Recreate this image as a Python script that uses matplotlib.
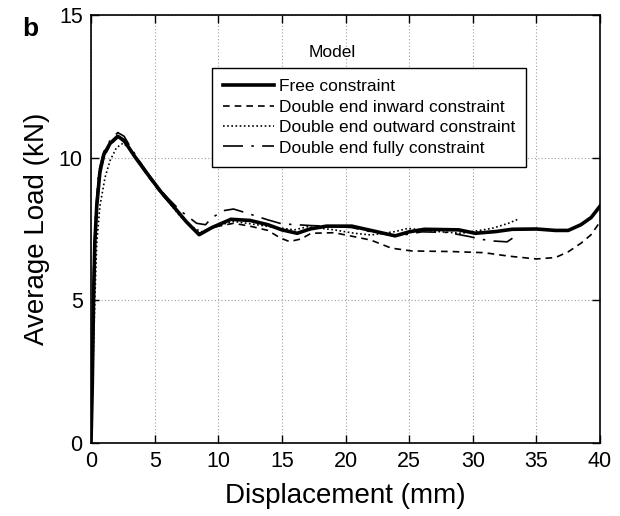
import numpy as np
import matplotlib
matplotlib.use('Agg')
import matplotlib.pyplot as plt

plt.rcParams['font.family'] = ['Liberation Sans', 'DejaVu Sans']

# displacement (mm) / average load (kN)
x_free = [0, 0.1, 0.2, 0.3, 0.45, 0.7, 1.0, 1.5, 2.1, 2.6, 3.5, 4.4, 5.5, 6.5, 7.5, 8.5, 9.5,
          11, 12.5, 13.9, 15, 16.2, 17.2, 18.5, 20.5, 22, 23.9, 25, 26.2, 28.9, 30.2, 31.8,
          33.1, 35, 36.5, 37.5, 38.5, 39.3, 40]
y_free = [0, 2, 5, 7, 8.3, 9.5, 10.1, 10.5, 10.75, 10.6, 10.0, 9.45, 8.8, 8.28, 7.75, 7.3, 7.55,
          7.84, 7.8, 7.65, 7.47, 7.35, 7.5, 7.6, 7.6, 7.45, 7.26, 7.4, 7.49, 7.47, 7.35, 7.41,
          7.49, 7.5, 7.45, 7.45, 7.65, 7.9, 8.3]

x_in = [0, 0.1, 0.2, 0.35, 0.6, 1.0, 1.5, 2.1, 2.6, 3.5, 4.4, 5.5, 6.5, 7.5, 8.5, 9.5, 11.2,
        12.5, 13.9, 14.9, 15.6, 16.5, 17.3, 19.1, 20.7, 22, 23.6, 25.2, 28.3, 30.9, 32.8, 35,
        36.5, 37.5, 38.5, 39.3, 40]
y_in = [0, 2.5, 5.5, 7.5, 9.2, 10.0, 10.45, 10.7, 10.55, 10.0, 9.4, 8.75, 8.25, 7.75, 7.35,
        7.55, 7.7, 7.6, 7.45, 7.18, 7.06, 7.15, 7.35, 7.37, 7.23, 7.11, 6.83, 6.73, 6.71, 6.67,
        6.55, 6.45, 6.5, 6.7, 7.0, 7.3, 7.75]

x_out = [0, 0.15, 0.3, 0.45, 0.7, 1.1, 1.5, 2.0, 2.5, 3.0, 4.0, 5.0, 6.0, 7.0, 8.0, 8.7, 9.5,
         11.2, 13.9, 16.0, 17.0, 19.1, 20.7, 22, 23.9, 24.9, 27.3, 29.1, 31.5, 32.8, 33.6]
y_out = [0, 2.5, 5, 7, 8.3, 9.3, 9.9, 10.35, 10.5, 10.35, 9.75, 9.1, 8.5, 7.95, 7.55, 7.4, 7.55,
         7.77, 7.59, 7.47, 7.58, 7.47, 7.35, 7.29, 7.41, 7.52, 7.41, 7.35, 7.52, 7.7, 7.85]

x_full = [0, 0.1, 0.2, 0.35, 0.6, 1.0, 1.5, 2.1, 2.6, 3.2, 4.0, 5.0, 6.0, 7.0, 8.3, 9.0, 9.5,
          10.5, 11.2, 12.3, 13.9, 15, 17.3, 18.5, 20.5, 22, 24, 26, 28, 29.8, 30.5, 31.6, 32.7,
          33.2]
y_full = [0, 3, 6, 8, 9.5, 10.2, 10.6, 10.88, 10.75, 10.3, 9.75, 9.1, 8.6, 8.15, 7.7, 7.65, 7.9,
          8.15, 8.2, 8.05, 7.82, 7.68, 7.62, 7.6, 7.55, 7.4, 7.25, 7.4, 7.38, 7.23, 7.15, 7.08,
          7.05, 7.2]

labels = ['Free constraint', 'Double end inward constraint',
          'Double end outward constraint', 'Double end fully constraint']

fig = plt.figure(figsize=(6.2, 5.16), dpi=100)
ax = fig.add_axes([91/620, 1-443/516, (600-91)/620, (443-15)/516])

ax.plot(x_free, y_free, color='black', lw=2.6, label=labels[0])
ax.plot(x_in, y_in, color='black', lw=1.2, ls=(0, (4, 3)), label=labels[1])
ax.plot(x_out, y_out, color='black', lw=1.2, ls=(0, (1, 1.5)), label=labels[2])
ax.plot(x_full, y_full, color='black', lw=1.2, ls=(0, (12, 5, 1.5, 5)), label=labels[3])

ax.set_xlim(0, 40)
ax.set_ylim(0, 15)
ax.set_xticks(np.arange(0, 41, 5))
ax.set_yticks([0, 5, 10, 15])
ax.grid(True, ls=(0, (1, 2)), color='#a0a0a0', lw=0.8)
ax.tick_params(direction='in', top=True, right=True, length=6, width=1,
               labelsize=15.5, pad=6)
for s in ax.spines.values():
    s.set_linewidth(1.2)

ax.set_xlabel('Displacement (mm)', fontsize=20, labelpad=8)
ax.set_ylabel('Average Load (kN)', fontsize=20, labelpad=6)

leg = ax.legend(loc='upper left', bbox_to_anchor=((212-91)/509, (443-68)/428),
                borderaxespad=0, fontsize=12.5, handlelength=2.9, handletextpad=0.3,
                labelspacing=0.3, borderpad=0.65, fancybox=False, framealpha=1)
leg.get_frame().set_edgecolor('black')
leg.get_frame().set_linewidth(1.0)

ax.text((332-91)/509, (443-53)/428, 'Model', transform=ax.transAxes,
        ha='center', va='center', fontsize=12.5)
fig.text(30/620, 1-29/516, 'b', fontsize=19, fontweight='bold', ha='center', va='center')

fig.savefig('out.png', dpi=100)
